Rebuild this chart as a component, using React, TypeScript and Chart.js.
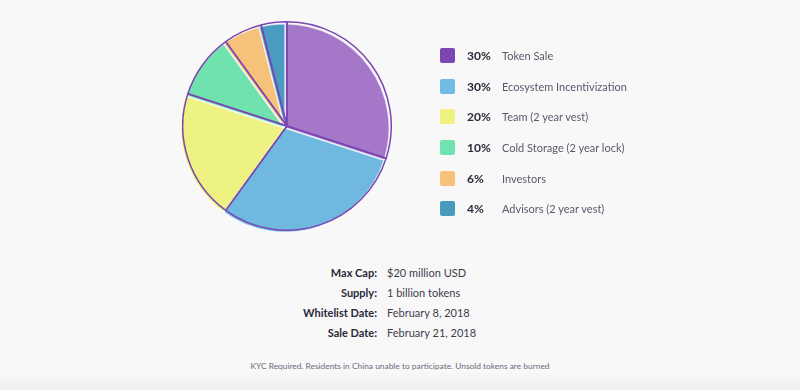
import React, { useEffect, useRef } from "react";
import { Chart, registerables } from "chart.js";

Chart.register(...registerables);

const categories = [
  "Token Sale",
  "Ecosystem Incentivization",
  "Team (2 year vest)",
  "Cold Storage (2 year lock)",
  "Investors",
  "Advisors (2 year vest)",
];
const shares = [30, 30, 20, 10, 6, 4];
const sliceColors = ["#a477c8", "#6fb9e0", "#edf283", "#6fe2ae", "#f6c27a", "#4a9bc0"];
const legendColors = ["#7b46b1", "#6fbbe2", "#eef37f", "#6fe3b0", "#f6c27a", "#4a9ac0"];
const borderColor = "#7b48b3";

const infoLabels = ["Max Cap:", "Supply:", "Whitelist Date:", "Sale Date:"];
const infoValues = ["$20 million USD", "1 billion tokens", "February 8, 2018", "February 21, 2018"];
const footnote = "KYC Required. Residents in China unable to participate. Unsold tokens are burned";

const FONT = "Lato, 'Open Sans', sans-serif";

function PieCanvas({ fills, border, bw, style }: { fills: string[]; border: string; bw: number; style: React.CSSProperties }) {
  const ref = useRef<HTMLCanvasElement | null>(null);
  useEffect(() => {
    if (!ref.current) return;
    const chart = new Chart(ref.current, {
      type: "pie",
      data: {
        labels: categories,
        datasets: [
          {
            data: shares,
            backgroundColor: fills,
            borderColor: border,
            borderWidth: bw,
          },
        ],
      },
      options: {
        responsive: false,
        animation: false,
        events: [],
        layout: { padding: 0 },
        plugins: { legend: { display: false }, tooltip: { enabled: false } },
      },
    });
    return () => chart.destroy();
  }, []);
  return <canvas ref={ref} width={210} height={210} style={{ position: "absolute", width: 210, height: 210, ...style }} />;
}

export default function App() {
  const rowY = [56, 87, 117, 148, 179, 209];
  const infoY = [273, 293, 313, 333];
  return (
    <div
      style={{
        position: "fixed",
        left: 0,
        top: 0,
        width: 800,
        height: 390,
        overflow: "hidden",
        background: "linear-gradient(to bottom, #f8f8f8 0px, #f8f8f8 372px, #efefef 390px)",
        fontFamily: FONT,
      }}
    >
      <PieCanvas fills={sliceColors} border="rgba(255,255,255,0.7)" bw={1.5} style={{ left: 180, top: 23 }} />
      <PieCanvas
        fills={sliceColors.map(() => "rgba(0,0,0,0)")}
        border={borderColor}
        bw={1.5}
        style={{ left: 182, top: 21 }}
      />
      {categories.map((c, i) => (
        <div key={c} style={{ position: "absolute", left: 0, top: rowY[i] - 10, height: 20, width: 800 }}>
          <div
            style={{
              position: "absolute",
              left: 440,
              top: 2,
              width: 15,
              height: 15,
              borderRadius: 2,
              background: legendColors[i],
            }}
          />
          <div
            style={{
              position: "absolute",
              left: 467,
              top: 0,
              lineHeight: "20px",
              fontSize: 12,
              fontWeight: 700,
              color: "#2b2939",
            }}
          >
            {shares[i]}%
          </div>
          <div
            style={{
              position: "absolute",
              left: 502,
              top: 0,
              lineHeight: "20px",
              fontSize: 11,
              color: "#5b596b",
              whiteSpace: "nowrap",
            }}
          >
            {c}
          </div>
        </div>
      ))}
      {infoLabels.map((l, i) => (
        <div key={l} style={{ position: "absolute", left: 0, top: infoY[i] - 10, height: 20, width: 800 }}>
          <div
            style={{
              position: "absolute",
              right: 800 - 377,
              top: 0,
              lineHeight: "20px",
              fontSize: 11,
              fontWeight: 700,
              color: "#2b2939",
              whiteSpace: "nowrap",
            }}
          >
            {l}
          </div>
          <div
            style={{
              position: "absolute",
              left: 387,
              top: 0,
              lineHeight: "20px",
              fontSize: 11,
              color: "#3e3c4c",
              whiteSpace: "nowrap",
            }}
          >
            {infoValues[i]}
          </div>
        </div>
      ))}
      <div
        style={{
          position: "absolute",
          left: 0,
          width: 800,
          top: 359,
          lineHeight: "14px",
          textAlign: "center",
          fontSize: 8.4,
          color: "#6b6a7c",
        }}
      >
        {footnote}
      </div>
    </div>
  );
}
